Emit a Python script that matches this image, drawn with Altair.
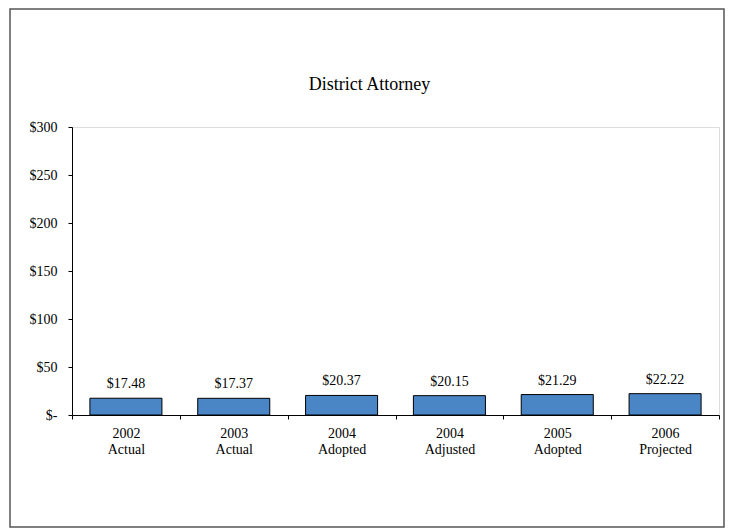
import altair as alt
import pandas as pd

categories = ["2002\nActual", "2003\nActual", "2004\nAdopted", "2004\nAdjusted", "2005\nAdopted", "2006\nProjected"]
values = [17.48, 17.37, 20.37, 20.15, 21.29, 22.22]
labels = ["$17.48", "$17.37", "$20.37", "$20.15", "$21.29", "$22.22"]
title_text = "District Attorney"

df = pd.DataFrame({"cat": categories, "value": values, "label": labels})

FONT = "Liberation Serif"

x = alt.X(
    "cat:N",
    sort=categories,
    title=None,
    scale=alt.Scale(paddingInner=0, paddingOuter=0),
    axis=alt.Axis(
        labelAngle=0,
        labelExpr="split(datum.label, '\\n')",
        labelFont=FONT,
        labelFontSize=14,
        labelColor="black",
        labelLineHeight=16,
        labelPadding=7,
        tickBand="extent",
        tickSize=4,
        tickColor="black",
        domainColor="black",
        grid=False,
    ),
)
y = alt.Y(
    "value:Q",
    title=None,
    scale=alt.Scale(domain=[0, 300], nice=False),
    axis=alt.Axis(
        values=[0, 50, 100, 150, 200, 250, 300],
        labelExpr="datum.value == 0 ? '$-' : '$' + datum.value",
        labelFont=FONT,
        labelFontSize=14,
        labelColor="black",
        labelPadding=11,
        tickSize=4,
        tickColor="black",
        domainColor="black",
        grid=False,
    ),
)

base = alt.Chart(df)

bars = base.mark_bar(
    width=alt.RelativeBandSize(0.668),
    color="#4a85c6",
    stroke="black",
    strokeWidth=1,
).encode(x=x, y=y)

text = base.mark_text(
    font=FONT, fontSize=14, color="black", baseline="alphabetic", dy=-10
).encode(x=x, y=y, text="label:N")

frame = alt.Chart(pd.DataFrame({"a": [0]})).mark_rect(
    fill=None, stroke="#555555", strokeWidth=1.5, clip=False
).encode(
    x=alt.value(-62), x2=alt.value(652), y=alt.value(-118), y2=alt.value(400)
)

title = alt.Chart(pd.DataFrame({"t": [title_text]})).mark_text(
    font=FONT, fontSize=18, color="black", baseline="middle", align="center"
).encode(x=alt.value(297.5), y=alt.value(-42), text="t:N")

chart = alt.layer(frame, bars, text, title).properties(
    width=647,
    height=288,
    autosize=alt.AutoSizeParams(type="none"),
    padding={"left": 64, "top": 119, "right": 6, "bottom": 114},
).configure_view(stroke="#999999", strokeWidth=1).configure(background="white")

chart.save("out.html", embed_options={"renderer": "svg", "actions": False})
